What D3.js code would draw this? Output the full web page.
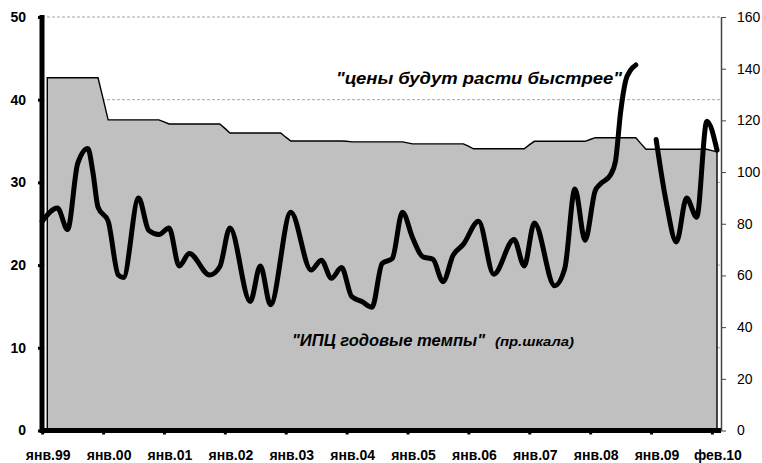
<!DOCTYPE html>
<html>
<head>
<meta charset="utf-8">
<script src="https://cdn.jsdelivr.net/npm/d3@7"></script>
<style>
  body { margin: 0; background: #fff; }
  svg { display: block; font-family: "Liberation Sans", Arial, sans-serif; }
</style>
</head>
<body>
<div id="chart"></div>
<script>
// chart size
const width = 762;
const height = 463;

// tick labels on the x axis (one per January, last one is February 2010)
const xTickMonths = [0, 12, 24, 36, 48, 60, 72, 84, 96, 108, 120, 132];
const xLabels = ['янв.99', 'янв.00', 'янв.01', 'янв.02', 'янв.03', 'янв.04',
                 'янв.05', 'янв.06', 'янв.07', 'янв.08', 'янв.09', 'фев.10'];

// left and right axis ticks
const leftTicks = [0, 10, 20, 30, 40, 50];
const rightTicks = [0, 20, 40, 60, 80, 100, 120, 140, 160];

// CPI annual rate, monthly from янв.99 (right scale)
const cpi = [
  null, 136.5, 136.5, 136.5, 136.5, 136.5, 136.5, 136.5, 136.5, 136.5, 136.5, 136.5,
  128.4, 120.2, 120.2, 120.2, 120.2, 120.2, 120.2, 120.2, 120.2, 120.2, 120.2, 120.2,
  119.4, 118.6, 118.6, 118.6, 118.6, 118.6, 118.6, 118.6, 118.6, 118.6, 118.6, 118.6,
  116.9, 115.1, 115.1, 115.1, 115.1, 115.1, 115.1, 115.1, 115.1, 115.1, 115.1, 115.1,
  113.5, 112.0, 112.0, 112.0, 112.0, 112.0, 112.0, 112.0, 112.0, 112.0, 112.0, 112.0,
  111.9, 111.7, 111.7, 111.7, 111.7, 111.7, 111.7, 111.7, 111.7, 111.7, 111.7, 111.7,
  111.3, 110.9, 110.9, 110.9, 110.9, 110.9, 110.9, 110.9, 110.9, 110.9, 110.9, 110.9,
  110.0, 109.0, 109.0, 109.0, 109.0, 109.0, 109.0, 109.0, 109.0, 109.0, 109.0, 109.0,
  110.5, 111.9, 111.9, 111.9, 111.9, 111.9, 111.9, 111.9, 111.9, 111.9, 111.9, 111.9,
  112.6, 113.3, 113.3, 113.3, 113.3, 113.3, 113.3, 113.3, 113.3, 113.3, 111.0, 108.8,
  108.8, 108.8, 108.8, 108.8, 108.8, 108.8, 108.8, 108.8, 108.8, 108.8, 108.8, 108.8,
  108.3, 107.8
];

// "prices will grow faster" survey share (left scale); null = gap
const expMonths = [0, 3, 5, 7, 9, 10, 11, 13, 15, 16, 19, 21, 23, 25, 27, 29, 33, 35, 37, 41, 43, 45,
                   49, 53, 55, 57, 59, 61, 63, 65, 67, 69, 71, 73, 75, 77, 79, 81, 83, 86,
                   89, 93, 95, 97, 101, 103, 105, 107, 109, 110, 112, 113, 114, 115, 116, 117,
                   119,
                   121, 123, 125, 127, 129, 131, 133];
const expValues = [25.3, 26.9, 24.3, 32.3, 34.1, 31.2, 27.0, 25.3, 18.8, 18.5, 28.1, 24.2, 23.7, 24.5,
                   19.9, 21.4, 18.8, 19.8, 24.5, 15.6, 19.9, 15.2,
                   26.4, 19.4, 20.6, 18.4, 19.7, 16.2, 15.6, 14.9, 20.2, 20.8, 26.4, 23.3, 21.0,
                   20.7, 18.0, 21.2, 22.5, 25.3,
                   18.9, 23.1, 19.9, 25.1, 17.5, 19.6, 29.2, 23.0, 29.0, 29.8, 30.9, 32.6, 38.5,
                   42.3, 43.6, 44.2,
                   null,
                   35.2, 27.6, 22.8, 28.1, 25.8, 37.4, 33.9];

const svg = d3.select("#chart")
  .append("svg")
  .attr("width", width)
  .attr("height", height);

// scales
const x = d3.scaleLinear().domain([0, 133]).range([42.2, 717]);
const yLeft = d3.scaleLinear().domain([0, 50]).range([430.5, 17]);
const yRight = d3.scaleLinear().domain([0, 160]).range([430.5, 17]);

const plotLeft = 42;
const plotRight = 721;

// dashed gridlines (left scale)
svg.append("g")
  .selectAll("line")
  .data(leftTicks.slice(1))
  .enter()
  .append("line")
    .attr("x1", plotLeft)
    .attr("x2", plotRight)
    .attr("y1", d => yLeft(d))
    .attr("y2", d => yLeft(d))
    .attr("stroke", "#a6a6a6")
    .attr("stroke-width", 1)
    .attr("stroke-dasharray", "3,2");

// CPI area
const cpiData = cpi.map((v, i) => ({m: i, v: v}));
const area = d3.area()
  .defined(d => d.v != null)
  .x(d => x(d.m))
  .y0(yRight(0))
  .y1(d => yRight(d.v));

svg.append("path")
  .datum(cpiData)
  .attr("d", area)
  .attr("fill", "#c0c0c0")
  .attr("stroke", "#000")
  .attr("stroke-width", 1.4);

// right axis
const rightAxis = svg.append("g")
  .attr("transform", `translate(${plotRight},0)`)
  .call(d3.axisRight(yRight).tickValues(rightTicks).tickSize(5).tickSizeOuter(0).tickPadding(11));
rightAxis.select(".domain").attr("stroke", "#444").attr("stroke-width", 1.5);
rightAxis.selectAll(".tick line").attr("stroke", "#444");
rightAxis.selectAll("text")
  .attr("font-size", "14px")
  .attr("font-family", "Liberation Sans, Arial, sans-serif")
  .attr("fill", "#000");

// survey line
const expData = expMonths.map((m, i) => ({m: m, v: expValues[i]}));
const line = d3.line()
  .defined(d => d.v != null)
  .x(d => x(d.m))
  .y(d => yLeft(d.v))
  .curve(d3.curveMonotoneX);

svg.append("path")
  .datum(expData)
  .attr("d", line)
  .attr("fill", "none")
  .attr("stroke", "#000")
  .attr("stroke-width", 5)
  .attr("stroke-linecap", "round")
  .attr("stroke-linejoin", "round");

// left axis (thick)
const leftAxis = svg.append("g")
  .attr("transform", `translate(${plotLeft},0)`)
  .call(d3.axisLeft(yLeft).tickValues(leftTicks).tickSize(4).tickSizeOuter(0).tickPadding(12));
leftAxis.select(".domain").attr("stroke-width", 5).attr("d", `M0,${yLeft(50) - 2}V${yLeft(0) + 2}`);
leftAxis.selectAll(".tick line").attr("stroke-width", 3);
leftAxis.selectAll("text")
  .attr("font-size", "14px")
  .attr("font-weight", "bold")
  .attr("font-family", "Liberation Sans, Arial, sans-serif");

// bottom axis (thick)
const bottomAxis = svg.append("g")
  .attr("transform", `translate(0,${yLeft(0)})`)
  .call(d3.axisBottom(x)
    .tickValues(xTickMonths)
    .tickSize(4)
    .tickSizeOuter(0)
    .tickPadding(16)
    .tickFormat((d, i) => xLabels[i]));
bottomAxis.select(".domain").attr("stroke-width", 5).attr("d", `M${plotLeft - 2},0H${plotRight}`);
bottomAxis.selectAll(".tick line").attr("stroke-width", 3);
bottomAxis.selectAll("text")
  .attr("dx", 5.5)
  .attr("font-size", "14px")
  .attr("font-weight", "bold")
  .attr("font-family", "Liberation Sans, Arial, sans-serif");

// series labels
svg.append("text")
  .attr("x", 336)
  .attr("y", 84)
  .attr("font-size", "17px")
  .attr("font-weight", "bold")
  .attr("font-style", "italic")
  .attr("textLength", 286)
  .attr("lengthAdjust", "spacingAndGlyphs")
  .text('"цены будут расти быстрее"');

svg.append("text")
  .attr("x", 292)
  .attr("y", 345.5)
  .attr("font-size", "17px")
  .attr("font-weight", "bold")
  .attr("font-style", "italic")
  .attr("textLength", 193)
  .attr("lengthAdjust", "spacingAndGlyphs")
  .text('"ИПЦ годовые темпы"');

svg.append("text")
  .attr("x", 495)
  .attr("y", 345.5)
  .attr("font-size", "13px")
  .attr("font-weight", "bold")
  .attr("font-style", "italic")
  .attr("textLength", 79)
  .attr("lengthAdjust", "spacingAndGlyphs")
  .text('(пр.шкала)');
</script>
</body>
</html>
